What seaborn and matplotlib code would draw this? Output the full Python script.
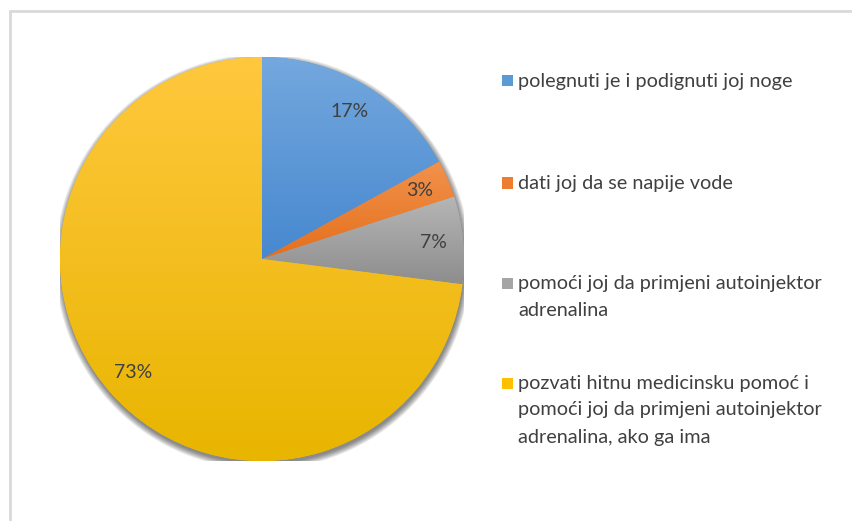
import numpy as np
import matplotlib
matplotlib.use("Agg")
import matplotlib.pyplot as plt
import seaborn as sns
from matplotlib.colors import LinearSegmentedColormap
from matplotlib.patches import Rectangle, Circle
from matplotlib.lines import Line2D

# Answers and their shares (%)
categories = [
    "polegnuti je i podignuti joj noge",
    "dati joj da se napije vode",
    "pomoći joj da primjeni autoinjektor\nadrenalina",
    "pozvati hitnu medicinsku pomoć i\npomoći joj da primjeni autoinjektor\nadrenalina, ako ga ima",
]
shares = [17, 3, 7, 73]

# Each slice is shaded from a lighter top to a darker bottom
top_colors = ["#74a8de", "#f2924c", "#b6b6b6", "#ffc83e"]
bottom_colors = ["#4788cf", "#e46f1c", "#8d8d8d", "#e8b500"]
legend_colors = ["#5b9bd5", "#ed7d31", "#a5a5a5", "#ffc000"]

sns.set_theme(style="white")
plt.rcParams["font.family"] = ["Lato", "DejaVu Sans"]

W, H = 853, 521
fig = plt.figure(figsize=(W / 100, H / 100), dpi=100)
fig.patch.set_facecolor("white")

# Outer chart frame (top and left edges)
frame_kw = dict(color="#d9d9d9", linewidth=2.0, transform=fig.transFigure)
fig.add_artist(Line2D([9.5 / W, 9.5 / W], [0, 1 - 10.5 / H], **frame_kw))
fig.add_artist(Line2D([9.5 / W, 1], [1 - 10.5 / H, 1 - 10.5 / H], **frame_kw))

# Pie area: centre (262, 259) px, radius 202 px
cx, cy, R = 262, 259, 202
ax = fig.add_axes([(cx - R) / W, (H - cy - R) / H, 2 * R / W, 2 * R / H])
ax.set_facecolor("none")

# Soft drop shadow
for k in range(8):
    ax.add_patch(Circle((0.004, -0.014), 1.0 + 0.004 * k, facecolor="#000000",
                        alpha=0.07, linewidth=0, zorder=0))

wedges, texts, autotexts = ax.pie(
    shares,
    startangle=90,
    counterclock=False,
    radius=1.0,
    colors=legend_colors,
    autopct=lambda p: f"{p:.0f}%",
    pctdistance=0.85,
    wedgeprops=dict(linewidth=0),
    textprops=dict(color="#404040", fontsize=14),
)

for w, c0, c1 in zip(wedges, top_colors, bottom_colors):
    w.set_zorder(1)
    ext = w.get_path().get_extents()
    cmap = LinearSegmentedColormap.from_list("shade", [c1, c0])
    grad = np.linspace(0, 1, 256).reshape(-1, 1)
    im = ax.imshow(grad, cmap=cmap, origin="lower", aspect="auto",
                   extent=[ext.x0, ext.x1, ext.y0, ext.y1], zorder=2,
                   interpolation="bilinear")
    im.set_clip_path(w)

for t in autotexts:
    t.set_zorder(5)

ax.set_xlim(-1, 1)
ax.set_ylim(-1, 1)
ax.set_aspect("auto")
ax.axis("off")

# Legend entries
entry_rows = [[81], [183], [283, 310], [383, 410, 437]]
for label, color, rows in zip(categories, legend_colors, entry_rows):
    sq = 11
    fig.add_artist(Rectangle((502 / W, (H - rows[0] - sq / 2) / H), sq / W, sq / H,
                             transform=fig.transFigure, facecolor=color,
                             edgecolor="none"))
    for line, y in zip(label.split("\n"), rows):
        fig.text(518 / W, (H - y) / H, line, ha="left", va="center",
                 color="#404040", fontsize=14.3)

fig.savefig("out.png", dpi=100, facecolor="white")
